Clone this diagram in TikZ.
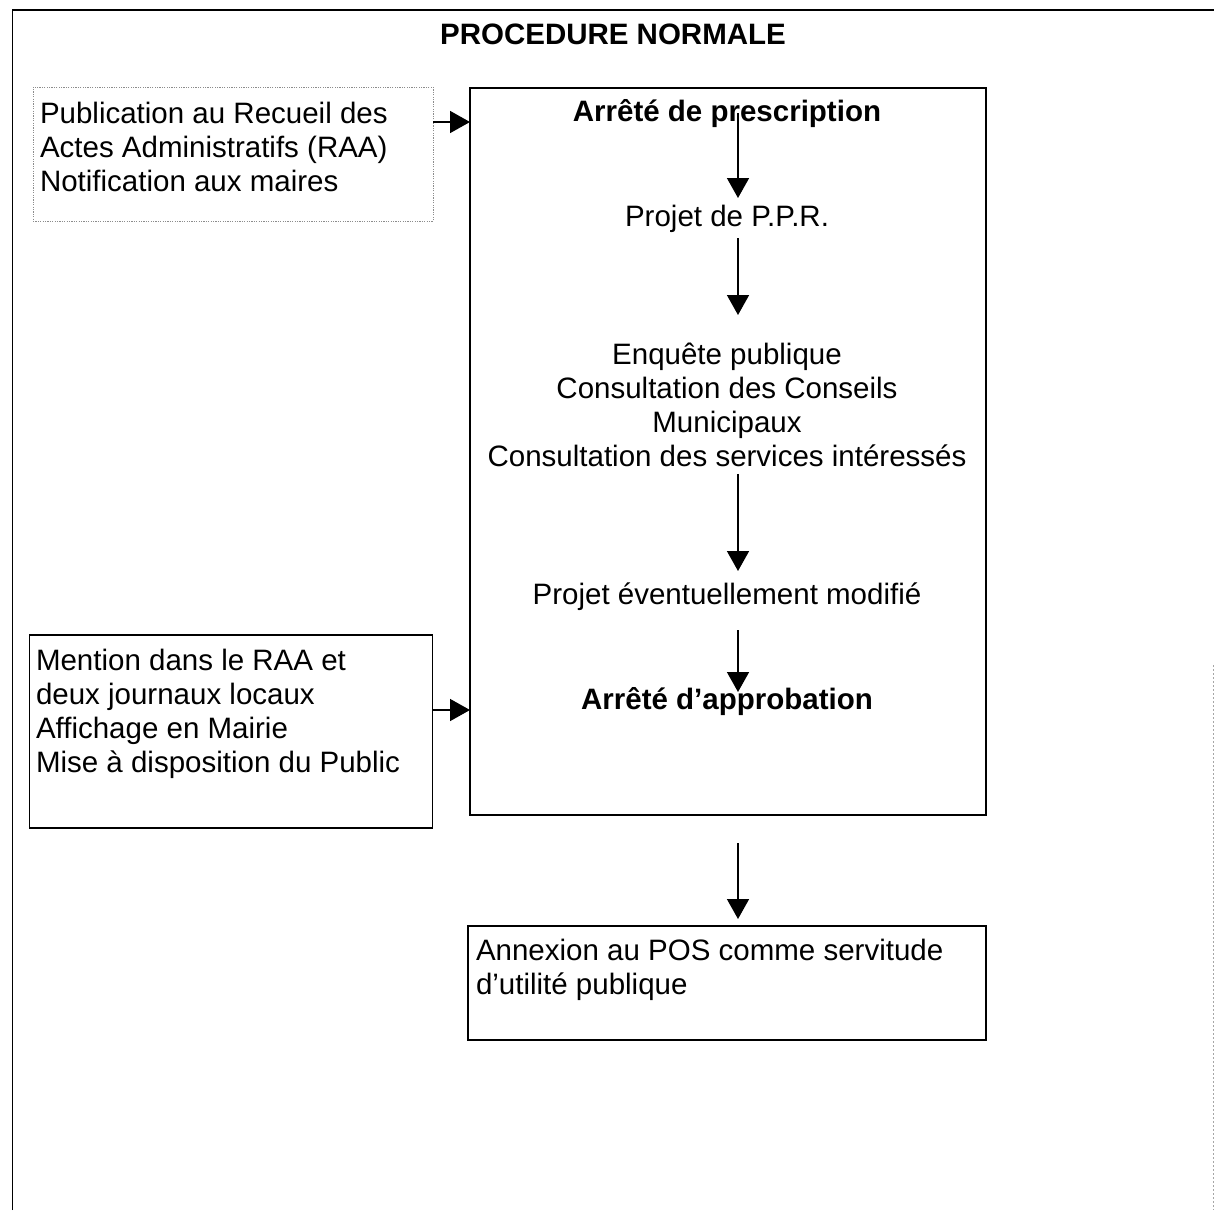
\documentclass[tikz,border=0pt]{standalone}
\usepackage{fontspec}
\setmainfont{Liberation Sans}
\usetikzlibrary{arrows.meta,calc}
\begin{document}
\begin{tikzpicture}[x=1pt,y=-1pt,
  every node/.style={inner sep=0pt,outer sep=0pt},
  reg/.style={font=\fontsize{29.5}{34}\selectfont},
  bld/.style={font=\fontsize{29.5}{34}\selectfont\bfseries},
  oneline/.style={text height=22pt,text depth=6pt},
  boxsty/.style={draw=black,line width=1.4pt},
  dotbox/.style={draw=black!45,line width=1pt,dash pattern=on 1.2pt off 1.2pt},
  arr/.style={line width=1.6pt,-{Triangle[width=22pt,length=20pt]}},
  frame/.style={line width=1.5pt},
  faint/.style={draw=black!35,line width=1pt,dash pattern=on 2pt off 2pt}]
\useasboundingbox (0,0) rectangle (1214,1210);
% outer frame
\draw[frame] (12.5,1210) -- (12.5,10) -- (1214,10);
\draw[faint] (1213,665) -- (1213,1210);
% title
\node[bld,oneline,anchor=base] (title) at (613,44) {PROCEDURE NORMALE};
% boxes
\node[dotbox,minimum width=400pt,minimum height=134pt] (b1) at (233,154) {};
\node[boxsty,minimum width=403pt,minimum height=193pt] (b2) at (231,731.5) {};
\node[boxsty,minimum width=516pt,minimum height=727pt] (main) at (728,451.5) {};
\node[boxsty,minimum width=518pt,minimum height=114pt] (b3) at (727,983) {};
% left texts
\node[reg,align=left,anchor=north west] (t1) at (40,102) {Publication au Recueil des\\Actes Administratifs (RAA)\\Notification aux maires};
\node[reg,align=left,anchor=north west] (t2) at (36,649.5) {Mention dans le RAA et\\deux journaux locaux\\Affichage en Mairie\\Mise à disposition du Public};
\node[reg,align=left,anchor=north west] (t3) at (476,939) {Annexion au POS comme servitude\\d’utilité publique};
% main column texts
\node[bld,oneline,anchor=base] (a1) at (727,121) {Arrêté de prescription};
\node[reg,oneline,anchor=base] (p1) at (727,226) {Projet de P.P.R.};
\node[reg,align=center,anchor=north] (e1) at (727,343) {Enquête publique\\Consultation des Conseils\\Municipaux\\Consultation des services intéressés};
\node[reg,oneline,anchor=base] (pm) at (727,604) {Projet éventuellement modifié};
\node[bld,oneline,anchor=base] (a2) at (727,709) {Arrêté d’approbation};
% arrows
\coordinate (ax) at (738,0);
\draw[arr] (a1.center -| ax) -- ($(p1.north -| ax)+(0,-6)$);
\draw[arr] ($(p1.south -| ax)+(0,6)$) -- ($(e1.north -| ax)+(0,-28)$);
\draw[arr] ($(e1.south -| ax)+(0,7)$) -- ($(pm.north -| ax)+(0,-11)$);
\draw[arr] ($(pm.south -| ax)+(0,20)$) -- ($(a2.north -| ax)+(0,5)$);
\draw[arr] ($(main.south -| ax)+(0,28)$) -- ($(b3.north -| ax)+(0,-7)$);
\draw[arr] ($(b1.north east)+(0,35)$) -- ($(main.north west)+(0,34)$);
\draw[arr] ($(b2.north east)+(0,75)$) -- ($(main.north west)+(0,622)$);
\end{tikzpicture}
\end{document}
